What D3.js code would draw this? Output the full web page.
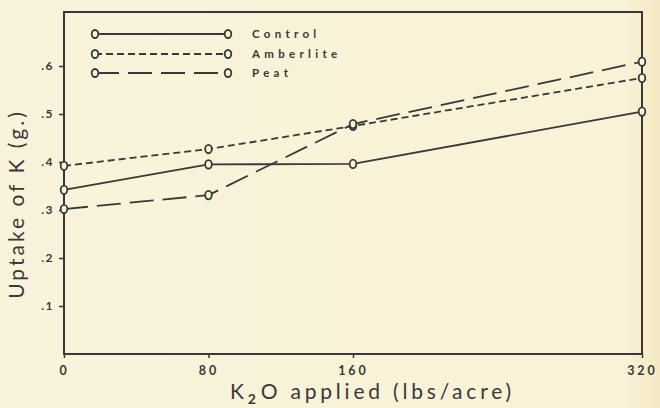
<!DOCTYPE html>
<html><head><meta charset="utf-8">
<script src="https://cdn.jsdelivr.net/npm/d3@7"></script>
<style>
html,body{margin:0;padding:0;background:#f8f3da;}
svg{display:block;}
text{font-family:"Lato","Open Sans",sans-serif;fill:#3a3838;}
</style></head><body>
<svg id="c" width="660" height="408"></svg>
<script>
const xValues = [0, 80, 160, 320];
const xTickLabels = ["0", "80", "160", "320"];
const yTicks = [0.1, 0.2, 0.3, 0.4, 0.5, 0.6];
const yTickLabels = [".1", ".2", ".3", ".4", ".5", ".6"];
const seriesNames = ["Control", "Amberlite", "Peat"];
const controlValues = [0.342, 0.395, 0.396, 0.505];
const amberliteValues = [0.392, 0.427, 0.475, 0.575];
const peatValues = [0.302, 0.331, 0.479, 0.609];

const ink = "#3a3838", bg = "#f8f3da";
const svg = d3.select("#c");
const x = d3.scaleLinear().domain([0, 320]).range([64, 642]);
const y = d3.scaleLinear().domain([0, 0.6]).range([354, 66]);
const frameTop = 12;

// background, slightly warmer toward the right edge
const defs = svg.append("defs");
const g = defs.append("linearGradient").attr("id","bgG").attr("x1","0").attr("x2","1");
g.append("stop").attr("offset","0").attr("stop-color","#f8f3da");
g.append("stop").attr("offset","0.95").attr("stop-color","#f9f2d6");
g.append("stop").attr("offset","1").attr("stop-color","#f5e8c4");
svg.append("rect").attr("width",660).attr("height",408).attr("fill","url(#bgG)");

// frame
svg.append("rect").attr("x", x(0)).attr("y", frameTop)
  .attr("width", x(320) - x(0)).attr("height", y(0) - frameTop)
  .attr("fill", "none").attr("stroke", ink).attr("stroke-width", 2);

// axes
const yAxis = d3.axisLeft(y).tickValues(yTicks).tickFormat((d,i)=>yTickLabels[i]).tickSize(5).tickPadding(5);
const ya = svg.append("g").attr("transform",`translate(${x(0)},0)`).call(yAxis);
ya.select(".domain").remove();
ya.selectAll("line").attr("stroke", ink).attr("stroke-width", 1.5);
ya.selectAll("text").attr("font-size", 12).attr("font-weight", "bold").attr("fill", ink)
  .attr("letter-spacing", 1.5).style("font-family", "Lato, sans-serif");

const xAxis = d3.axisBottom(x).tickValues(xValues).tickFormat((d,i)=>xTickLabels[i]).tickSize(4).tickPadding(8);
const xa = svg.append("g").attr("transform",`translate(0,${y(0)})`).call(xAxis);
xa.select(".domain").remove();
xa.selectAll("line").attr("stroke", ink).attr("stroke-width", 1.5);
xa.selectAll("text").attr("font-size", 12.5).attr("font-weight", "bold").attr("fill", ink)
  .attr("letter-spacing", 3).style("font-family", "Lato, sans-serif");

// series
const series = [
  {name: seriesNames[0], vals: controlValues, dash: null},
  {name: seriesNames[1], vals: amberliteValues, dash: "7,4"},
  {name: seriesNames[2], vals: peatValues, dash: "24,9"}
];
const line = d3.line().x((d,i)=>x(xValues[i])).y(d=>y(d));
series.forEach(s => {
  svg.append("path").attr("d", line(s.vals)).attr("fill","none")
    .attr("stroke", ink).attr("stroke-width", 1.8)
    .attr("stroke-dasharray", s.dash);
});
series.forEach(s => {
  svg.selectAll(null).data(s.vals).enter().append("ellipse")
    .attr("cx",(d,i)=>x(xValues[i])).attr("cy",d=>y(d))
    .attr("rx",3.3).attr("ry",4.2)
    .attr("fill",bg).attr("stroke",ink).attr("stroke-width",1.8);
});

// legend
const legY = [34, 54, 73];
series.forEach((s,i) => {
  const lg = svg.append("g");
  lg.append("line").attr("x1",95).attr("x2",228).attr("y1",legY[i]).attr("y2",legY[i])
    .attr("stroke",ink).attr("stroke-width",1.8).attr("stroke-dasharray", s.dash);
  [95,228].forEach(cx => lg.append("ellipse").attr("cx",cx).attr("cy",legY[i])
    .attr("rx",3.3).attr("ry",4).attr("fill",bg).attr("stroke",ink).attr("stroke-width",1.8));
  lg.append("text").attr("x",252).attr("y",legY[i]+4).text(s.name)
    .attr("font-size",11.5).attr("font-weight","bold").attr("letter-spacing",4.3);
});

// axis titles
const xt = svg.append("text").attr("x", 230).attr("y", 399).attr("font-size", 21)
  .attr("letter-spacing", 3.8);
xt.append("tspan").text("K");
xt.append("tspan").text("2").attr("font-size", 14).attr("font-weight","bold").attr("dy", 5).attr("dx", 0);
xt.append("tspan").text("O  applied (lbs/acre)").attr("dy", -5).attr("dx", 1);

svg.append("text").attr("transform","translate(24,204) rotate(-90)")
  .attr("text-anchor","middle").attr("font-size",21).attr("letter-spacing",3.0)
  .text("Uptake of K (g.)");
</script>
</body></html>
